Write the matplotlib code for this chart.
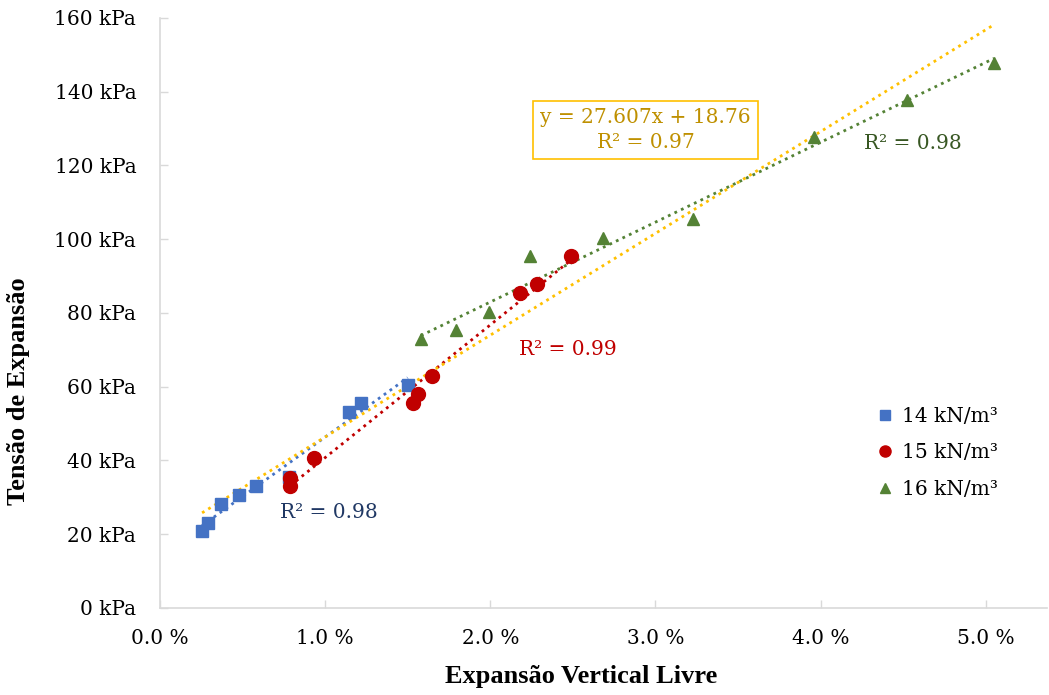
import numpy as np
import matplotlib
matplotlib.use("Agg")
import matplotlib.pyplot as plt
from matplotlib.ticker import FuncFormatter

# Free vertical swell (%) vs. swelling pressure (kPa) per dry unit weight
exp_14 = [0.255, 0.29, 0.37, 0.48, 0.58, 0.78, 1.145, 1.22, 1.50]
ten_14 = [20.9, 23.0, 28.2, 30.6, 33.1, 35.5, 53.1, 55.6, 60.4]

exp_15 = [0.79, 0.79, 0.93, 1.53, 1.56, 1.65, 2.18, 2.28, 2.49]
ten_15 = [35.2, 33.1, 40.7, 55.6, 58.0, 62.9, 85.4, 87.8, 95.4]

exp_16 = [1.58, 1.79, 1.99, 2.24, 2.68, 3.23, 3.96, 4.52, 5.05]
ten_16 = [72.9, 75.3, 80.2, 95.4, 100.3, 105.4, 127.6, 137.7, 147.7]

series_labels = ["14 kN/m³", "15 kN/m³", "16 kN/m³"]
r2_labels = ["R² = 0.98", "R² = 0.99", "R² = 0.98"]

# Combined linear fit over all samples
fit_slope = 27.607
fit_intercept = 18.76
fit_r2 = 0.97

x_ticks = [0, 1, 2, 3, 4, 5]
y_ticks = [0, 20, 40, 60, 80, 100, 120, 140, 160]

colors = ["#4472C4", "#C00000", "#548235"]
text_colors = ["#203864", "#C00000", "#385723"]
markers = ["s", "o", "^"]
msizes = [9, 10, 9]

fig = plt.figure(figsize=(10.49, 6.95), dpi=100)
ax = fig.add_axes([0.1525, 0.1252, 0.8455, 0.849])

serif = ["DejaVu Serif"]
title_font = ["Liberation Serif"]
fs = 14.5

data = [(exp_14, ten_14), (exp_15, ten_15), (exp_16, ten_16)]
for (xs, ys), c, m, ms, lab in zip(data, colors, markers, msizes, series_labels):
    ax.plot(xs, ys, linestyle="none", marker=m, color=c, markersize=ms,
            label=lab, zorder=3)

# Per-series linear trendlines
for (xs, ys), c in zip(data, colors):
    xs = np.asarray(xs); ys = np.asarray(ys)
    k, b = np.polyfit(xs, ys, 1)
    xx = np.array([xs.min(), xs.max()])
    ax.plot(xx, k * xx + b, linestyle=(0, (1, 1.6)), color=c, lw=2.0, zorder=2)

# Combined trendline
all_x = np.concatenate([exp_14, exp_15, exp_16])
xx = np.array([all_x.min(), all_x.max()])
ax.plot(xx, fit_slope * xx + fit_intercept, linestyle=(0, (1, 1.6)),
        color="#FFC000", lw=2.0, zorder=2)

# R² annotations
ax.text(1.02, 26.0, r2_labels[0], color=text_colors[0], fontsize=fs,
        family=serif, ha="center", va="center")
ax.text(2.47, 70.0, r2_labels[1], color=text_colors[1], fontsize=fs,
        family=serif, ha="center", va="center")
ax.text(4.56, 126.0, r2_labels[2], color=text_colors[2], fontsize=fs,
        family=serif, ha="center", va="center")
ax.text(2.94, 129.6,
        f"y = {fit_slope:.3f}x + {fit_intercept:.2f}\nR² = {fit_r2:.2f}",
        color="#BF9000", fontsize=fs, family=serif, ha="center", va="center",
        linespacing=1.45,
        bbox=dict(boxstyle="square,pad=0.35", facecolor="white",
                  edgecolor="#FFC000", linewidth=1.2))

ax.set_xlim(0, 5.37)
ax.set_ylim(0, 160)
ax.set_xticks(x_ticks)
ax.set_yticks(y_ticks)
ax.xaxis.set_major_formatter(FuncFormatter(lambda v, p: f"{v:.1f} %"))
ax.yaxis.set_major_formatter(FuncFormatter(lambda v, p: f"{v:.0f} kPa"))

for s in ["top", "right"]:
    ax.spines[s].set_visible(False)
for s in ["left", "bottom"]:
    ax.spines[s].set_color("#D9D9D9")
    ax.spines[s].set_linewidth(1.2)

ax.tick_params(axis="x", direction="in", length=6, width=1.0, color="#D9D9D9",
               labelsize=fs, pad=15)
ax.tick_params(axis="y", direction="in", length=6, width=1.0, color="#D9D9D9",
               labelsize=fs, pad=17)
for t in ax.get_xticklabels() + ax.get_yticklabels():
    t.set_family(serif)

# Axis titles
fig.text(581 / 1049, 1 - 677 / 695, "Expansão Vertical Livre", family=title_font,
         fontsize=19, fontweight="bold", ha="center", va="center")
fig.text(19 / 1049, 1 - 391 / 695, "Tensão de Expansão", family=title_font,
         fontsize=19, fontweight="bold", ha="center", va="center", rotation=90)

ax.legend(loc="center left", bbox_to_anchor=(0.788, 0.263),
          frameon=False, prop={"family": serif, "size": fs},
          handlelength=0.8, handletextpad=0.45, labelspacing=0.87,
          markerscale=0.8)

fig.savefig("out.png", dpi=100, facecolor="white")
